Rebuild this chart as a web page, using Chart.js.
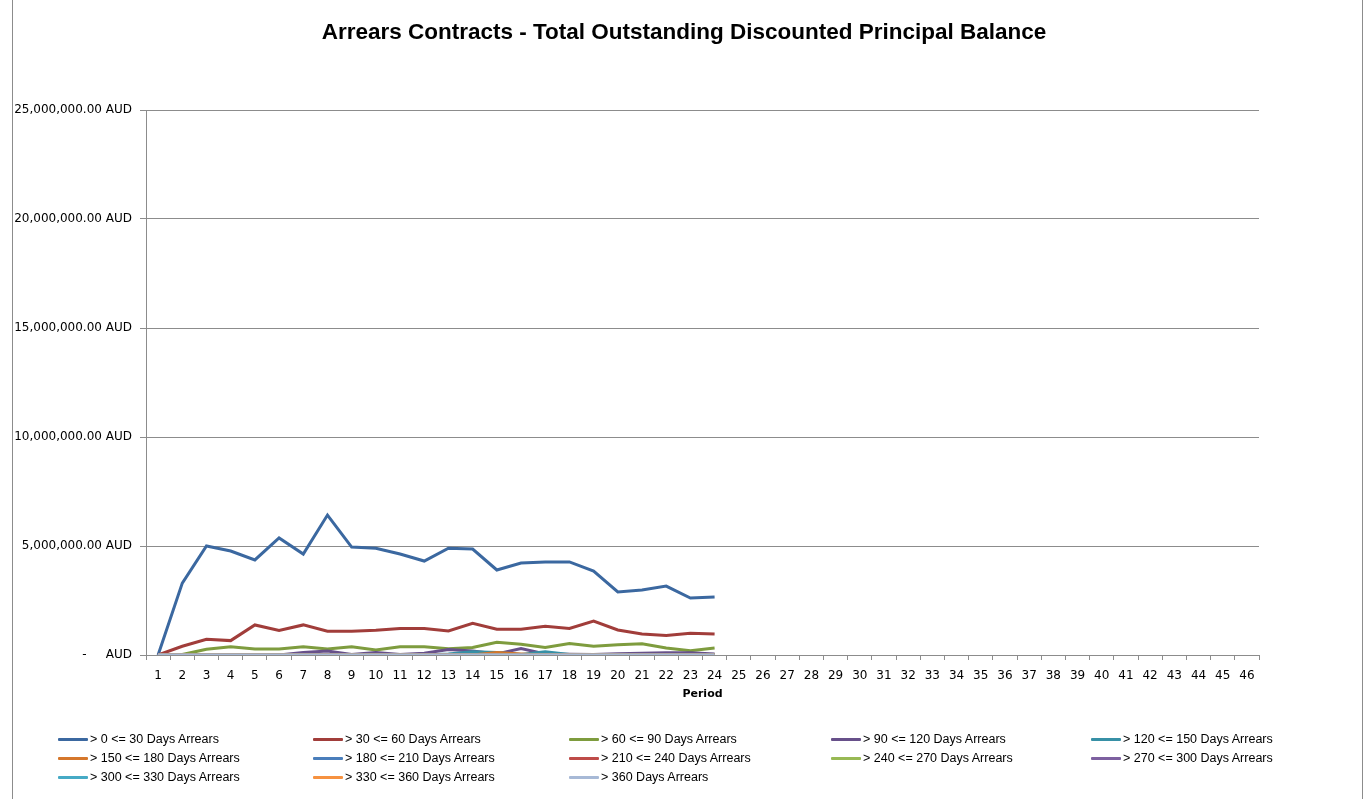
<!DOCTYPE html>
<html>
<head>
<meta charset="utf-8">
<script src="https://cdn.jsdelivr.net/npm/chart.js@4/dist/chart.umd.min.js"></script>
<style>
    html, body { margin: 0; padding: 0; background: #fff; }
    #wrap { position: relative; width: 1368px; height: 799px; overflow: hidden; }
    #frame { position: absolute; left: 12px; top: -2px; width: 1349px; height: 810px;
             border-left: 1px solid #8c8c8c; border-right: 1px solid #8c8c8c; }
    #legend { position: absolute; left: 0; top: 730px; width: 1368px; font: 12.5px "Liberation Sans", Arial, sans-serif; color: #000; }
    .item { position: absolute; height: 19px; line-height: 19px; white-space: nowrap; }
    .item span.sw { display: inline-block; width: 30px; height: 3px; vertical-align: middle; margin-right: 2px; border-radius: 1px; }
</style>
</head>
<body>
<div id="wrap">
    <canvas id="chart" width="1368" height="799"></canvas>
    <div id="frame"></div>
    <div id="legend"></div>
</div>
<script>
// Periods 1..46 on the x axis
const periods = [];
for (let i = 1; i <= 46; i++) periods.push(String(i));

// Values (AUD), periods 1..24
const arrears0to30 = [0, 3300000, 5000000, 4770000, 4360000, 5370000, 4630000, 6420000, 4950000, 4900000, 4630000, 4310000,
    4900000, 4860000, 3900000, 4220000, 4270000, 4270000, 3850000, 2890000, 2980000, 3160000, 2610000, 2660000];
const arrears30to60 = [0, 400000, 720000, 660000, 1380000, 1120000, 1380000, 1090000, 1090000, 1130000, 1220000, 1220000,
    1100000, 1450000, 1180000, 1180000, 1320000, 1220000, 1560000, 1150000, 960000, 900000, 1000000, 960000];
const arrears60to90 = [0, 20000, 260000, 380000, 270000, 270000, 380000, 270000, 380000, 230000, 380000, 380000,
    290000, 340000, 580000, 490000, 340000, 530000, 400000, 470000, 520000, 320000, 200000, 320000];
const arrears90to120 = [0, 0, 0, 0, 0, 0, 120000, 180000, 20000, 120000, 20000, 80000,
    250000, 180000, 50000, 300000, 50000, 40000, 20000, 60000, 80000, 100000, 100000, 50000];
const arrears120to150 = [0, 0, 0, 0, 0, 0, 0, 0, 0, 0, 0, 0,
    50000, 150000, 120000, 20000, 150000, 20000, 0, 0, 0, 0, 0, 0];
const arrears150to180 = [0, 0, 0, 0, 0, 0, 0, 0, 0, 0, 0, 0,
    0, 0, 120000, 50000, 0, 0, 0, 0, 0, 0, 0, 20000];
const arrears180to210 = [0, 0, 0, 0, 0, 0, 0, 0, 0, 0, 0, 0, 0, 0, 0, 0, 0, 0, 0, 0, 0, 0, 0, 0];
const arrears210to240 = [0, 0, 0, 0, 0, 0, 0, 0, 0, 0, 0, 0, 0, 0, 0, 0, 0, 0, 0, 0, 0, 0, 0, 0];
const arrears240to270 = [0, 0, 0, 0, 0, 0, 0, 0, 0, 0, 0, 0, 0, 0, 0, 0, 0, 0, 0, 0, 0, 0, 0, 0];
const arrears270to300 = [0, 0, 0, 0, 0, 0, 0, 0, 0, 0, 0, 0, 0, 0, 0, 0, 0, 0, 0, 0, 0, 0, 0, 0];
const arrears300to330 = [0, 0, 0, 0, 0, 0, 0, 0, 0, 0, 0, 0, 0, 0, 0, 0, 0, 0, 0, 0, 0, 0, 0, 0];
const arrears330to360 = [0, 0, 0, 0, 0, 0, 0, 0, 0, 0, 0, 0, 0, 0, 0, 0, 0, 0, 0, 0, 0, 0, 0, 0];
const arrears360plus = [0, 0, 0, 0, 0, 0, 0, 0, 0, 0, 0, 0, 0, 0, 0, 0, 0, 0, 0, 0, 0, 0, 0, 0];

const seriesNames = ['> 0 <= 30 Days Arrears', '> 30 <= 60 Days Arrears', '> 60 <= 90 Days Arrears',
    '> 90 <= 120 Days Arrears', '> 120 <= 150 Days Arrears', '> 150 <= 180 Days Arrears',
    '> 180 <= 210 Days Arrears', '> 210 <= 240 Days Arrears', '> 240 <= 270 Days Arrears',
    '> 270 <= 300 Days Arrears', '> 300 <= 330 Days Arrears', '> 330 <= 360 Days Arrears', '> 360 Days Arrears'];
const seriesValues = [arrears0to30, arrears30to60, arrears60to90, arrears90to120, arrears120to150, arrears150to180,
    arrears180to210, arrears210to240, arrears240to270, arrears270to300, arrears300to330, arrears330to360, arrears360plus];
const seriesColors = ['#3b68a0', '#a13d3a', '#7e9c3e', '#67508a', '#3790a6', '#d5772b',
    '#4a7ebb', '#be4b48', '#98b954', '#7d60a0', '#46aac5', '#f69240', '#a7b9d6'];

const yTicks = [0, 5000000, 10000000, 15000000, 20000000, 25000000];

const datasets = seriesNames.map((name, i) => ({
    label: name,
    data: seriesValues[i],
    borderColor: seriesColors[i],
    backgroundColor: seriesColors[i],
    borderWidth: 3,
    pointRadius: 0,
    tension: 0,
    fill: false,
    order: 13 - i,
}));

const tickFont = { family: '"DejaVu Sans", sans-serif', size: 12 };

const chart = new Chart(document.getElementById('chart'), {
    type: 'line',
    data: { labels: periods, datasets: datasets },
    options: {
        responsive: false,
        animation: false,
        layout: { padding: { left: 0, right: 0, top: 0, bottom: 89 } },
        scales: {
            x: {
                offset: true,
                grid: { display: true, offset: true, drawOnChartArea: false, color: '#8c8c8c', tickLength: 5 },
                border: { color: '#8c8c8c' },
                ticks: { color: '#000', font: tickFont, maxRotation: 0, autoSkip: false, padding: 9 },
                title: { display: true, text: 'Period', color: '#000',
                    font: { family: '"DejaVu Sans", sans-serif', size: 11, weight: 'bold' }, padding: { top: 2, bottom: 9 } },
                afterFit: (s) => { s.height = 55; },
            },
            y: {
                min: 0,
                max: 25000000,
                afterBuildTicks: (s) => { s.ticks = yTicks.map(v => ({ value: v })); },
                grid: { color: '#8c8c8c', tickLength: 6 },
                border: { color: '#8c8c8c' },
                ticks: {
                    color: '#000', font: tickFont, padding: 8,
                    callback: (v) => v === 0 ? '-     AUD'
                        : v.toLocaleString('en-US', { minimumFractionDigits: 2, maximumFractionDigits: 2 }) + ' AUD',
                },
                afterFit: (s) => { s.width = 146; },
            },
            // empty right-hand spacer so the title centres on the whole canvas
            spacer: {
                type: 'linear',
                position: 'right',
                min: 0,
                max: 1,
                grid: { display: false },
                border: { display: false },
                ticks: { display: false },
                afterFit: (s) => { s.width = 109; },
            },
        },
        plugins: {
            legend: { display: false },
            tooltip: { enabled: false },
            title: {
                display: true,
                text: 'Arrears Contracts - Total Outstanding Discounted Principal Balance',
                color: '#000',
                font: { family: '"Liberation Sans", Arial, sans-serif', size: 22.5, weight: 'bold', lineHeight: 1.2 },
                padding: { top: 19, bottom: 64 },
            },
        },
    },
});

// HTML legend, 5 columns x 3 rows
const legendBox = document.getElementById('legend');
const colX = [58, 313, 569, 831, 1091];
seriesNames.forEach((name, i) => {
    const el = document.createElement('div');
    el.className = 'item';
    el.style.left = colX[i % 5] + 'px';
    el.style.top = (Math.floor(i / 5) * 19) + 'px';
    el.innerHTML = '<span class="sw" style="background:' + seriesColors[i] + '"></span>' + name;
    legendBox.appendChild(el);
});
</script>
</body>
</html>
